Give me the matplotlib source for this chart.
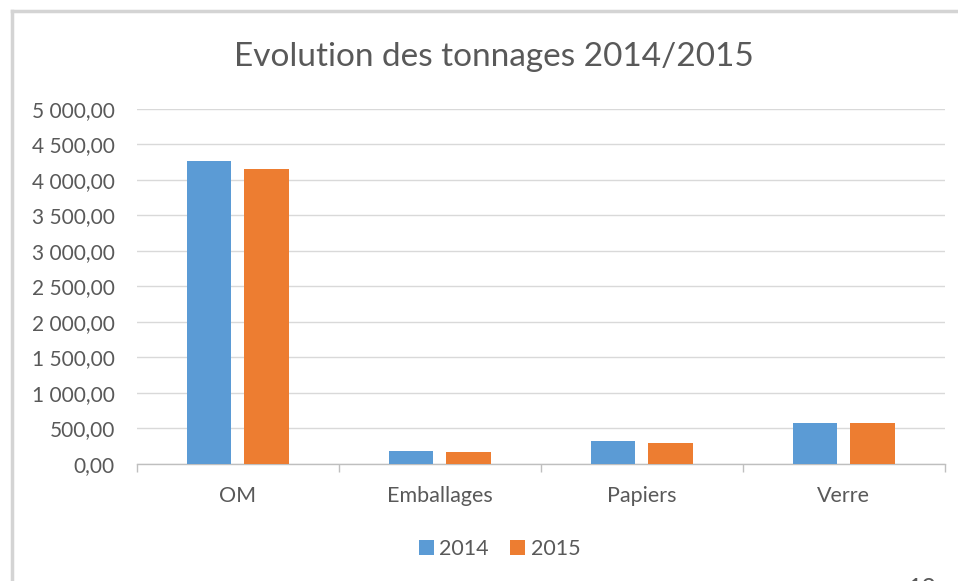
import matplotlib.pyplot as plt
import numpy as np
from matplotlib.ticker import FuncFormatter, MultipleLocator
from matplotlib.lines import Line2D

categories = ["OM", "Emballages", "Papiers", "Verre"]
tonnes_2014 = [4270, 185, 330, 578]
tonnes_2015 = [4150, 165, 290, 580]
series_names = ["2014", "2015"]

blue = "#5B9BD5"
orange = "#ED7D31"
grey_txt = "#595959"

plt.rcParams['font.family'] = ['Lato', 'DejaVu Sans']

def fr_format(v, pos):
    # French style: space for thousands, comma for decimals
    s = "{:,.2f}".format(v)
    return s.replace(",", " ").replace(".", ",")

fig = plt.figure(figsize=(9.58, 5.81), dpi=100)
ax = fig.add_axes([0.143, 0.2014, 0.843, 0.611])

x = np.arange(len(categories))
w = 0.22
ax.bar(x - 0.142, tonnes_2014, w, color=blue, label=series_names[0], zorder=3)
ax.bar(x + 0.142, tonnes_2015, w, color=orange, label=series_names[1], zorder=3)

ax.set_xlim(-0.5, len(categories) - 0.5)
ax.set_ylim(0, 5000)
ax.yaxis.set_major_locator(MultipleLocator(500))
ax.yaxis.set_major_formatter(FuncFormatter(fr_format))
ax.grid(axis='y', color="#D9D9D9", linewidth=1, zorder=0)

for s in ["top", "right", "left"]:
    ax.spines[s].set_visible(False)
ax.spines["bottom"].set_color("#BFBFBF")
ax.spines["bottom"].set_linewidth(1)

ax.set_xticks(x)
ax.set_xticklabels(categories)
ax.tick_params(axis='x', length=0, labelsize=15.5, labelcolor=grey_txt, pad=15.5)
ax.tick_params(axis='y', length=0, labelsize=15, labelcolor=grey_txt, pad=16)
# boundary tick marks between categories
ax.set_xticks(np.arange(-0.5, len(categories)), minor=True)
ax.tick_params(axis='x', which='minor', length=6, color="#BFBFBF", width=1)

fig.suptitle("Evolution des tonnages 2014/2015", x=0.516, y=0.928,
             fontsize=24, color=grey_txt)

ax.legend(loc='center', bbox_to_anchor=(0.449, -0.24), ncol=2, frameon=False,
          fontsize=15.5, labelcolor=grey_txt, handlelength=0.7, handleheight=0.7,
          handletextpad=0.25, columnspacing=1.0)

# frame of the pasted chart
fig.add_artist(Line2D([12 / 958, 1], [1 - 11 / 581, 1 - 11 / 581], color="#D4D4D4", lw=2.5))
fig.add_artist(Line2D([12 / 958, 12 / 958], [0, 1 - 11 / 581], color="#D4D4D4", lw=2.5))

fig.text(922 / 958, -8 / 581, "12", fontsize=18, color=grey_txt, ha='center', va='center')

fig.savefig("out.png", dpi=100)
